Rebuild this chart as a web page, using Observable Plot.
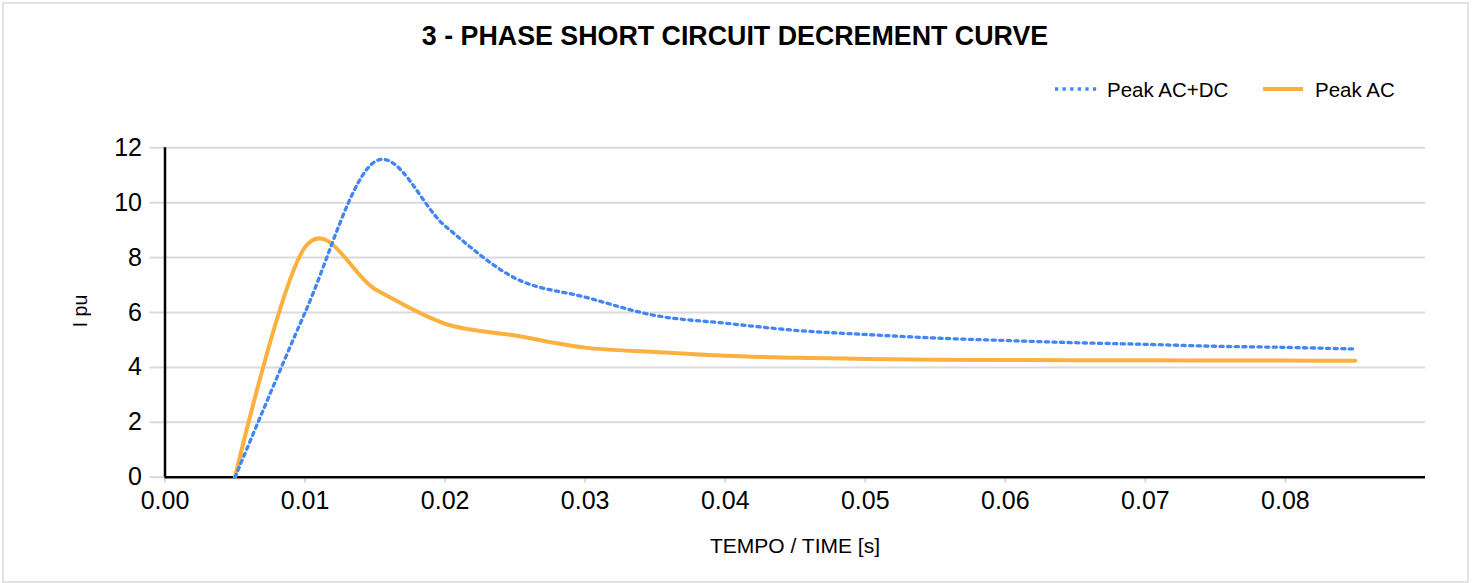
<!DOCTYPE html>
<html>
<head>
<meta charset="utf-8">
<script src="https://cdn.jsdelivr.net/npm/d3@7"></script>
<script src="https://cdn.jsdelivr.net/npm/@observablehq/plot@0.6"></script>
<style>
  html, body { margin: 0; padding: 0; background: #fff; }
  #wrap { position: relative; width: 1474px; height: 583px; overflow: hidden; font-family: "Liberation Sans", Arial, sans-serif; }
  #frame { position: absolute; left: 2px; top: 2px; width: 1463px; height: 577px; border: 2px solid #e2e2e2; box-sizing: content-box; }
  #chart { position: absolute; left: 0; top: 0; }
  #overlay { position: absolute; left: 0; top: 0; pointer-events: none; }
</style>
</head>
<body>
<div id="wrap">
  <div id="frame"></div>
  <div id="chart"></div>
  <svg id="overlay" width="1474" height="583"></svg>
</div>
<script>
// ---- data ----
const times = [0.005, 0.010, 0.015, 0.020, 0.025, 0.030, 0.035, 0.040, 0.045,
               0.050, 0.055, 0.060, 0.065, 0.070, 0.075, 0.080, 0.085];
const peakAcDc = [0, 6.0, 11.5, 9.15, 7.25, 6.56, 5.89, 5.61, 5.35,
                  5.2, 5.07, 4.98, 4.9, 4.84, 4.77, 4.73, 4.67];
const peakAc = [0, 8.38, 6.85, 5.59, 5.16, 4.72, 4.56, 4.42, 4.35,
                4.31, 4.28, 4.27, 4.26, 4.26, 4.25, 4.25, 4.24];
const xTicks = [0, 0.01, 0.02, 0.03, 0.04, 0.05, 0.06, 0.07, 0.08];
const yTicks = [0, 2, 4, 6, 8, 10, 12];
const seriesNames = ["Peak AC+DC", "Peak AC"];
const seriesColors = ["#4285F4", "#FBB040"];
const titleText = "3 - PHASE SHORT CIRCUIT DECREMENT CURVE";
const xLabel = "TEMPO / TIME [s]";
const yLabel = "I pu";

const FONT = '"Liberation Sans", Arial, sans-serif';
const dataAcDc = times.map((t, i) => ({t, v: peakAcDc[i]}));
const dataAc = times.map((t, i) => ({t, v: peakAc[i]}));

const chart = Plot.plot({
  width: 1474,
  height: 583,
  marginLeft: 164.5,
  marginRight: 49,
  marginTop: 147.3,
  marginBottom: 106.3,
  style: {fontFamily: FONT, color: "#000", background: "transparent", overflow: "visible"},
  x: {domain: [0, 0.09]},
  y: {domain: [0, 12]},
  marks: [
    Plot.ruleY(yTicks.filter(d => d > 0), {stroke: "#dadada", strokeWidth: 2}),
    Plot.axisY({ticks: yTicks, tickSize: 15, tickPadding: 8, stroke: "#dadada", strokeWidth: 2,
                fill: "#000", fontSize: 25, label: null, tickFormat: d => String(d)}),
    Plot.axisX({ticks: xTicks, tickSize: 6, tickPadding: 8, stroke: "#dadada", strokeWidth: 2,
                fill: "#000", fontSize: 25, label: null, tickFormat: d3.format(".2f")}),
    Plot.ruleY([0], {stroke: "#000", strokeWidth: 2.5}),
    Plot.ruleX([0], {stroke: "#000", strokeWidth: 2.5}),
    Plot.line(dataAc, {x: "t", y: "v", stroke: seriesColors[1], strokeWidth: 4, curve: "cardinal"}),
    Plot.line(dataAcDc, {x: "t", y: "v", stroke: seriesColors[0], strokeWidth: 3.3,
                         strokeDasharray: "3.2,4.4", curve: "cardinal"})
  ]
});
document.getElementById("chart").appendChild(chart);

// ---- title, legend, axis labels ----
const ov = d3.select("#overlay");
ov.append("text").attr("x", 735).attr("y", 44.5).attr("text-anchor", "middle")
  .attr("font-family", FONT).attr("font-weight", "bold").attr("font-size", 26.8)
  .attr("fill", "#000").text(titleText);

const legendItems = [
  {name: seriesNames[0], color: seriesColors[0], x0: 1055, x1: 1097, tx: 1107, dash: "3.2,4.4", w: 3.3},
  {name: seriesNames[1], color: seriesColors[1], x0: 1263, x1: 1303, tx: 1315, dash: null, w: 4}
];
legendItems.forEach(d => {
  const l = ov.append("line").attr("x1", d.x0).attr("x2", d.x1).attr("y1", 89).attr("y2", 89)
    .attr("stroke", d.color).attr("stroke-width", d.w);
  if (d.dash) l.attr("stroke-dasharray", d.dash);
  ov.append("text").attr("x", d.tx).attr("y", 96.5).attr("font-family", FONT)
    .attr("font-size", 20.5).attr("fill", "#000").text(d.name);
});

ov.append("text").attr("x", 795).attr("y", 552.5).attr("text-anchor", "middle")
  .attr("font-family", FONT).attr("font-size", 21).attr("fill", "#000").text(xLabel);
ov.append("text").attr("transform", "translate(87,311) rotate(-90)").attr("text-anchor", "middle")
  .attr("font-family", FONT).attr("font-size", 19.5).attr("fill", "#000").text(yLabel);
</script>
</body>
</html>
